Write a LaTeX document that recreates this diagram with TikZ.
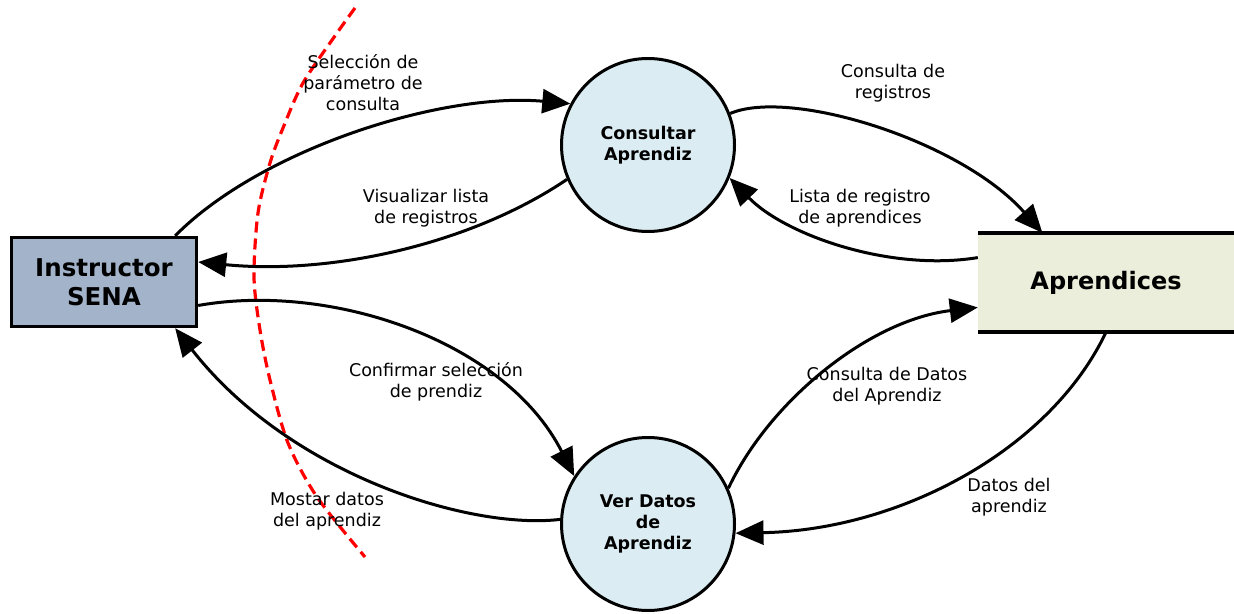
\documentclass[tikz,border=0pt]{standalone}
\usepackage{fontspec}
\setmainfont{DejaVu Sans}
\usetikzlibrary{arrows.meta}
\definecolor{entityblue}{HTML}{A3B4CA}
\definecolor{storegreen}{HTML}{EAEEDB}
\definecolor{processblue}{HTML}{DBEDF3}
\tikzset{
  entity/.style={draw=black, line width=3.4pt, fill=entityblue, minimum width=185pt, minimum height=89pt,
    align=center, font=\fontsize{24.5}{29}\selectfont\bfseries, inner sep=0pt},
  store/.style={fill=storegreen, minimum width=256pt, minimum height=99pt,
    font=\fontsize{24}{29}\selectfont\bfseries, inner sep=0pt},
  process/.style={circle, draw=black, line width=3pt, fill=processblue, minimum size=173pt,
    align=center, font=\fontsize{17.5}{21}\selectfont\bfseries, inner sep=0pt},
  flow/.style={line width=3pt, -{Triangle[length=28pt,width=24pt]}},
  flowlabel/.style={align=center, font=\fontsize{17.5}{21}\selectfont, inner sep=0pt},
  boundary/.style={red, line width=3.2pt, dash pattern=on 11pt off 6pt}
}
\begin{document}
\begin{tikzpicture}[x=1pt, y=-1pt]
\useasboundingbox (0,0) rectangle (1234,613);

% external entity, data store and processes
\node[entity] (instr) at (104,282) {Instructor\\SENA};
\node[store] (apr) at (1106,282.5) {Aprendices};
\draw[line width=4pt] (apr.north west) -- (apr.north east);
\draw[line width=4pt] (apr.south west) -- (apr.south east);
\node[process] (cons) at (648,145) {Consultar\\Aprendiz};
\node[process] (ver) at (648,524) {Ver Datos\\de\\Aprendiz};

% system boundary
\draw[boundary] plot[smooth] coordinates {(355,8) (337,33) (303,83) (283,128) (270,163) (258,213) (254,277) (260,330) (270,380) (288,443) (317,497) (365,557)};

% data flows
\draw[flow] (instr.33) .. controls (260,150) and (440,92) .. (cons.152);
\draw[flow] (cons.203) .. controls (470,245) and (330,275) .. (instr.12);
\draw[flow] (cons.21) .. controls (790,88) and (960,140) .. (apr.142);
\draw[flow] (apr.169) .. controls (890,272) and (785,235) .. (cons.-22);
\draw[flow] (instr.-14) .. controls (330,282) and (505,340) .. (ver.147);
\draw[flow] (ver.177) .. controls (470,530) and (290,475) .. (instr.-33);
\draw[flow] (ver.24) .. controls (770,400) and (870,320) .. (apr.191);
\draw[flow] (apr.south) .. controls (1050,450) and (900,530) .. (ver.-6);

% flow labels
\node[flowlabel] (l1) at (363,83) {Selección de\\parámetro de\\consulta};
\node[flowlabel] (l2) at (426,208) {Visualizar lista\\de registros};
\node[flowlabel] (l3) at (893,83) {Consulta de\\registros};
\node[flowlabel] (l4) at (860,208) {Lista de registro\\de aprendices};
\node[flowlabel] (l5) at (436,382) {Confirmar selección\\de prendiz};
\node[flowlabel] (l6) at (887,386) {Consulta de Datos\\del Aprendiz};
\node[flowlabel] (l7) at (327,511) {Mostar datos\\del aprendiz};
\node[flowlabel] (l8) at (1009,497) {Datos del\\aprendiz};
\end{tikzpicture}
\end{document}
